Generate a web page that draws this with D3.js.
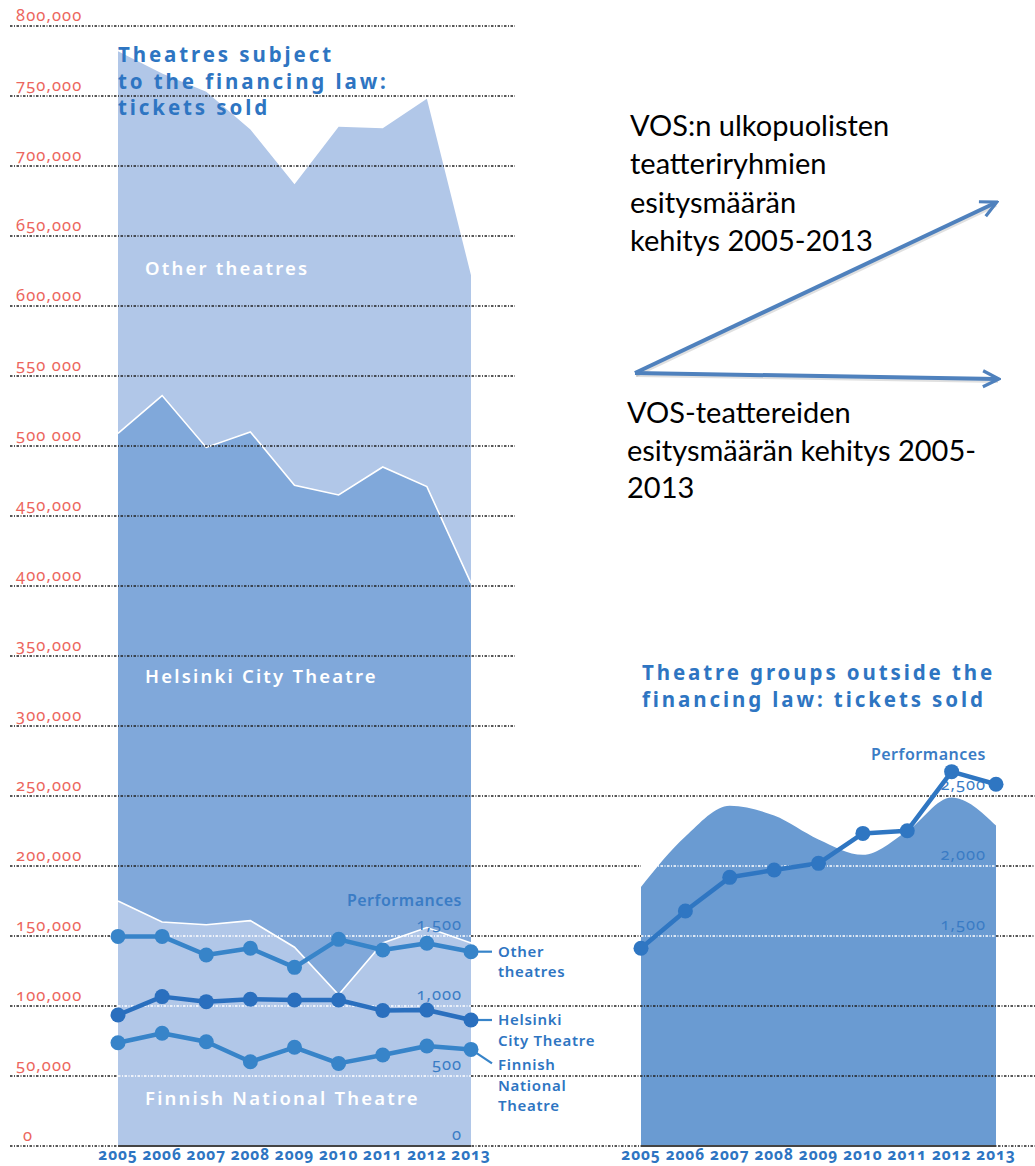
<!DOCTYPE html>
<html>
<head>
<meta charset="utf-8">
<script src="https://cdn.jsdelivr.net/npm/d3@7"></script>
<style>
  body { margin: 0; background: #fff; }
  svg text { font-family: "Noto Sans", sans-serif; font-variant-numeric: oldstyle-nums; }
  .note { font-family: Lato, "Noto Sans", sans-serif; font-variant-numeric: normal; }
</style>
</head>
<body>
<script>
// years on both charts
const years = [2005, 2006, 2007, 2008, 2009, 2010, 2011, 2012, 2013];

// theatres subject to the financing law: tickets sold (stacked layers)
const fntTickets   = [175000, 160000, 158000, 161000, 142000, 108000, 145000, 156000, 145000];
const hctTickets   = [334000, 376000, 341000, 349000, 330000, 357000, 340000, 315000, 257000];
const otherTickets = [273000, 230000, 254000, 216000, 215000, 263000, 242000, 277000, 220000];

// performances
const otherPerf = [1497, 1497, 1364, 1412, 1276, 1476, 1400, 1448, 1388];
const hctPerf   = [936, 1067, 1031, 1048, 1043, 1043, 967, 971, 900];
const fntPerf   = [738, 805, 745, 602, 705, 590, 650, 714, 690];

// theatre groups outside the financing law
const groupTickets = [185000, 221000, 243000, 236000, 219000, 208000, 225000, 249000, 229000];
const groupPerf    = [1413, 1679, 1919, 1971, 2019, 2233, 2252, 2674, 2584];

// tick labels
const ticketTicks = [0, 50000, 100000, 150000, 200000, 250000, 300000, 350000, 400000,
                     450000, 500000, 550000, 600000, 650000, 700000, 750000, 800000];
const ticketLabels = ['0', '50,000', '100,000', '150,000', '200,000', '250,000', '300,000', '350,000',
                      '400,000', '450,000', '500 000', '550 000', '600,000', '650,000', '700,000',
                      '750,000', '800,000'];
const leftPerfTicks = [0, 500, 1000, 1500];
const leftPerfLabels = ['0', '500', '1,000', '1,500'];
const rightPerfTicks = [1500, 2000, 2500];
const rightPerfLabels = ['1,500', '2,000', '2,500'];

const blue = '#2e75c2';
const red = '#ec665d';

const W = 1035, H = 1166;
const svg = d3.select('body').append('svg').attr('width', W).attr('height', H);

const y = d3.scaleLinear().domain([0, 800000]).range([1146, 26]);
// performances share the same vertical scale: 1 performance = 100 tickets
const yPerf = d3.scaleLinear().domain([0, 8000]).range([1146, 26]);
const xLeft = d3.scaleLinear().domain([2005, 2013]).range([118, 471]);
const xRight = d3.scaleLinear().domain([2005, 2013]).range([641, 996]);

// stacked areas, left chart
const table = years.map((yr, i) => ({ year: yr, fnt: fntTickets[i], hct: hctTickets[i], other: otherTickets[i] }));
const stack = d3.stack().keys(['fnt', 'hct', 'other']);
const layers = stack(table);
const layerColor = { fnt: '#b1c7e8', hct: '#80a8da', other: '#b1c7e8' };

const area = d3.area()
  .x(d => xLeft(d.data.year))
  .y0(d => y(d[0]))
  .y1(d => y(d[1]));

svg.append('g').selectAll('path')
  .data(layers)
  .enter().append('path')
  .attr('d', area)
  .attr('fill', d => layerColor[d.key]);

// white separators between layers
const topLine = d3.line().x(d => xLeft(d.data.year)).y(d => y(d[1]));
svg.append('g').selectAll('path')
  .data(layers.slice(0, 2))
  .enter().append('path')
  .attr('d', topLine)
  .attr('fill', 'none')
  .attr('stroke', '#fff')
  .attr('stroke-width', 1.6);

// right chart area
const groupArea = d3.area()
  .x((d, i) => xRight(years[i]))
  .y0(y(0))
  .y1(d => y(d))
  .curve(d3.curveMonotoneX);
svg.append('path')
  .datum(groupTickets)
  .attr('d', groupArea)
  .attr('fill', '#6a9bd2');

// black dotted gridlines
const dash = '2.5,1.5,1,1.5';
const leftHoles = leftPerfTicks.filter(p => p > 0).map(p => p * 100);
const rightHoles = rightPerfTicks.filter(p => p < 2500).map(p => p * 100);
const grid = svg.append('g');
ticketTicks.forEach(v => {
  const end = v >= 300000 ? 515 : W;
  let segs = [[10, end]];
  if (leftHoles.includes(v)) segs = [[10, 118], [471, end]];
  if (rightHoles.includes(v)) {
    segs = segs.flatMap(s => s[1] > 641 ? [[s[0], 641], [996, s[1]]] : [s]);
  }
  segs.forEach(s => {
    grid.append('line')
      .attr('x1', s[0]).attr('x2', s[1])
      .attr('y1', y(v)).attr('y2', y(v))
      .attr('stroke', '#222').attr('stroke-width', 1.3)
      .attr('stroke-dasharray', dash);
  });
});

// solid baselines under the areas
[[xLeft, 2005, 2013], [xRight, 2005, 2013]].forEach(([sx, a, b]) => {
  svg.append('line')
    .attr('x1', sx(a)).attr('x2', sx(b))
    .attr('y1', y(0)).attr('y2', y(0))
    .attr('stroke', '#444').attr('stroke-width', 2);
});

// white dotted performance gridlines inside the areas
leftHoles.forEach(v => {
  svg.append('line')
    .attr('x1', xLeft(2005)).attr('x2', xLeft(2013))
    .attr('y1', y(v)).attr('y2', y(v))
    .attr('stroke', '#fff').attr('stroke-width', 1.4)
    .attr('stroke-dasharray', dash);
});
rightHoles.forEach(v => {
  svg.append('line')
    .attr('x1', xRight(2005)).attr('x2', xRight(2013))
    .attr('y1', y(v)).attr('y2', y(v))
    .attr('stroke', '#fff').attr('stroke-width', 1.4)
    .attr('stroke-dasharray', dash);
});

// red ticket tick labels
svg.append('g').selectAll('text')
  .data(ticketTicks)
  .enter().append('text')
  .attr('x', d => d === 0 ? 23 : 16)
  .attr('y', d => y(d) - 5)
  .attr('fill', red)
  .attr('font-size', 16.5)
  .attr('letter-spacing', 1.1)
  .text((d, i) => ticketLabels[i]);

// year labels
[xLeft, xRight].forEach(sx => {
  svg.append('g').selectAll('text')
    .data(years)
    .enter().append('text')
    .attr('x', d => sx(d))
    .attr('y', 1160)
    .attr('text-anchor', 'middle')
    .attr('fill', blue)
    .attr('font-size', 15.5)
    .attr('font-weight', 'bold')
    .attr('letter-spacing', 0.8)
    .text(d => d);
});

// performance tick labels
const perfLabelStyle = sel => sel
  .attr('text-anchor', 'end')
  .attr('fill', '#3a7cc5').attr('font-size', 16.5).attr('letter-spacing', 1);
svg.append('g').selectAll('text')
  .data(leftPerfTicks)
  .enter().append('text')
  .attr('x', 462).attr('y', d => yPerf(d) - 6)
  .call(perfLabelStyle)
  .text((d, i) => leftPerfLabels[i]);
svg.append('g').selectAll('text')
  .data(rightPerfTicks)
  .enter().append('text')
  .attr('x', 986).attr('y', d => yPerf(d) - 6)
  .call(perfLabelStyle)
  .text((d, i) => rightPerfLabels[i]);

svg.append('text').attr('x', 462).attr('y', 906).attr('text-anchor', 'end')
  .attr('fill', '#3a7cc5').attr('font-size', 16).attr('font-weight', 600).attr('letter-spacing', 0.5)
  .text('Performances');
svg.append('text').attr('x', 986).attr('y', 760).attr('text-anchor', 'end')
  .attr('fill', '#3a7cc5').attr('font-size', 16).attr('font-weight', 600).attr('letter-spacing', 0.5)
  .text('Performances');

// titles
function multiline(lines, x, y0, dy, attrs) {
  const t = svg.append('text').attr('x', x).attr('y', y0);
  Object.entries(attrs).forEach(([k, v]) => t.attr(k, v));
  lines.forEach((s, i) => t.append('tspan').attr('x', x).attr('y', y0 + i * dy).text(s));
  return t;
}
const titleStyle = { fill: blue, 'font-size': 20.5, 'font-weight': 'bold', 'letter-spacing': 2.9 };
multiline(['Theatres subject', 'to the financing law:', 'tickets sold'], 118, 62, 26.5, titleStyle);
multiline(['Theatre groups outside the', 'financing law: tickets sold'], 642, 680, 26.5, titleStyle);

// layer names
const layerStyle = { fill: '#fff', 'font-size': 18.5, 'font-weight': 600, 'letter-spacing': 2.2 };
multiline(['Other theatres'], 145, 275, 0, layerStyle);
multiline(['Helsinki City Theatre'], 145, 683, 0, layerStyle);
multiline(['Finnish National Theatre'], 145, 1105, 0, layerStyle);

// performance lines
const perfSeries = [
  { values: otherPerf, color: '#3784c9', sx: xLeft },
  { values: hctPerf, color: '#2a6fbe', sx: xLeft },
  { values: fntPerf, color: '#3784c9', sx: xLeft },
  { values: groupPerf, color: '#2f76c2', sx: xRight }
];

// connectors to the labels
const last = years.length - 1;
[[otherPerf, 0], [hctPerf, 0], [fntPerf, 14]].forEach(([vals, drop]) => {
  svg.append('line')
    .attr('x1', xLeft(2013)).attr('y1', yPerf(vals[last]))
    .attr('x2', 492).attr('y2', yPerf(vals[last]) + drop)
    .attr('stroke', '#3784c9').attr('stroke-width', 2.2);
});

perfSeries.forEach(s => {
  const line = d3.line().x((d, i) => s.sx(years[i])).y(d => yPerf(d));
  svg.append('path')
    .datum(s.values)
    .attr('d', line)
    .attr('fill', 'none')
    .attr('stroke', s.color)
    .attr('stroke-width', 4.5)
    .attr('stroke-linejoin', 'round');
  svg.append('g').selectAll('circle')
    .data(s.values)
    .enter().append('circle')
    .attr('cx', (d, i) => s.sx(years[i]))
    .attr('cy', d => yPerf(d))
    .attr('r', 7.5)
    .attr('fill', s.color);
});

// series labels at right of left chart
const legStyle = { fill: blue, 'font-size': 15, 'font-weight': 600, 'letter-spacing': 0.7 };
multiline(['Other', 'theatres'], 498, yPerf(otherPerf[last]) + 5, 20.5, legStyle);
multiline(['Helsinki', 'City Theatre'], 498, yPerf(hctPerf[last]) + 5, 20.5, legStyle);
multiline(['Finnish', 'National', 'Theatre'], 498, yPerf(fntPerf[last]) + 21, 20.5, legStyle);

// annotation arrows
const defs = svg.append('defs');
defs.append('marker')
  .attr('id', 'arrowhead')
  .attr('viewBox', '0 0 10 10')
  .attr('refX', 8).attr('refY', 5)
  .attr('markerWidth', 5).attr('markerHeight', 5)
  .attr('orient', 'auto')
  .append('path')
  .attr('d', 'M1,1 L9,5 L1,9')
  .attr('fill', 'none')
  .attr('stroke', '#4f81bd')
  .attr('stroke-width', 1.6);

const arrows = [[635, 373, 995, 203], [635, 373, 997, 379]];
arrows.forEach(a => {
  svg.append('line')
    .attr('x1', a[0] + 1).attr('y1', a[1] + 2).attr('x2', a[2] + 1).attr('y2', a[3] + 2)
    .attr('stroke', 'rgba(0,0,0,0.12)').attr('stroke-width', 4);
  svg.append('line')
    .attr('x1', a[0]).attr('y1', a[1]).attr('x2', a[2]).attr('y2', a[3])
    .attr('stroke', '#4f81bd').attr('stroke-width', 4)
    .attr('marker-end', 'url(#arrowhead)');
});

const noteStyle = { fill: '#000', 'font-size': 29, class: 'note' };
multiline(['VOS:n ulkopuolisten', 'teatteriryhmien', 'esitysmäärän', 'kehitys 2005-2013'], 630, 136, 38.3, noteStyle);
multiline(['VOS-teattereiden', 'esitysmäärän kehitys 2005-', '2013'], 627, 423, 37.7, noteStyle);
</script>
</body>
</html>
